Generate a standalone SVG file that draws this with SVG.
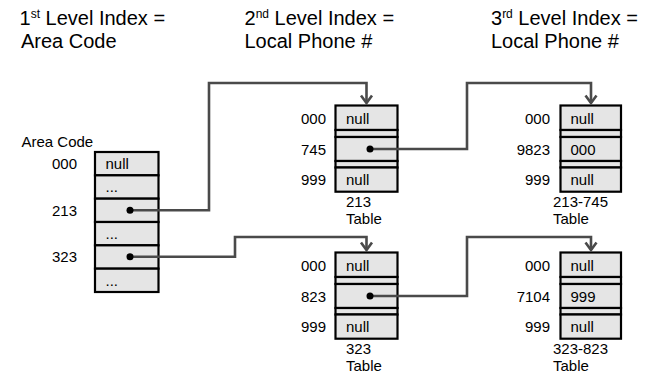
<svg xmlns="http://www.w3.org/2000/svg" width="654" height="377" viewBox="0 0 654 377">
<style>
text{font-family:"Liberation Sans",Arial,Helvetica,sans-serif;fill:#000}
.h{font-size:20px}
.sup{font-size:12px}
.t{font-size:15px}
.r{text-anchor:end}
.cell{fill:#e5e5e5;stroke:#000;stroke-width:2.2}
.ptr{fill:#000}
.conn{fill:none;stroke:#4a4a4a;stroke-width:2.6;stroke-linejoin:miter}
</style>
<defs>
<marker id="arr" markerUnits="userSpaceOnUse" markerWidth="16" markerHeight="16" viewBox="-10 -8 12 16" refX="0" refY="0" orient="auto">
<path d="M-7.5,-5.5 L0,0 L-7.5,5.5" fill="none" stroke="#4a4a4a" stroke-width="2.6"/>
</marker>
</defs>
<g id="headers">
<text class="h" x="19.5" y="25">1<tspan class="sup" dy="-7">st</tspan><tspan dy="7"> Level Index =</tspan></text>
<text class="h" x="21" y="48">Area Code</text>
<text class="h" x="244.5" y="25">2<tspan class="sup" dy="-7">nd</tspan><tspan dy="7"> Level Index =</tspan></text>
<text class="h" x="244.5" y="48">Local Phone #</text>
<text class="h" x="491" y="25">3<tspan class="sup" dy="-7">rd</tspan><tspan dy="7"> Level Index =</tspan></text>
<text class="h" x="491" y="48">Local Phone #</text>
</g>
<g id="area-code-table">
<text class="t" x="21.5" y="147">Area Code</text>
<rect class="cell" x="95" y="152" width="63.5" height="23.33"/>
<rect class="cell" x="95" y="175.33" width="63.5" height="23.33"/>
<rect class="cell" x="95" y="198.67" width="63.5" height="23.33"/>
<rect class="cell" x="95" y="222" width="63.5" height="23.33"/>
<rect class="cell" x="95" y="245.33" width="63.5" height="23.33"/>
<rect class="cell" x="95" y="268.67" width="63.5" height="23.33"/>
<text class="t r" x="77" y="169">000</text>
<text class="t r" x="77" y="215.5">213</text>
<text class="t r" x="77" y="262">323</text>
<text class="t" x="105.5" y="169">null</text>
<text class="t" x="105.5" y="192">...</text>
<text class="t" x="105.5" y="239">...</text>
<text class="t" x="105.5" y="285.5">...</text>
</g>
<g id="table-213">
<rect class="cell" x="335.5" y="105.5" width="62" height="24.5"/>
<rect class="cell" x="335.5" y="130" width="62" height="7"/>
<rect class="cell" x="335.5" y="137" width="62" height="24"/>
<rect class="cell" x="335.5" y="161" width="62" height="6.5"/>
<rect class="cell" x="335.5" y="167.5" width="62" height="24.2"/>
<text class="t r" x="326" y="124">000</text>
<text class="t r" x="326" y="154.5">745</text>
<text class="t r" x="326" y="185">999</text>
<text class="t" x="346" y="124">null</text>
<text class="t" x="346" y="185">null</text>
<text class="t" x="346" y="207">213</text>
<text class="t" x="346" y="224">Table</text>
</g>
<g id="table-213-745">
<rect class="cell" x="560.5" y="105.5" width="60.5" height="24.5"/>
<rect class="cell" x="560.5" y="130" width="60.5" height="7"/>
<rect class="cell" x="560.5" y="137" width="60.5" height="24"/>
<rect class="cell" x="560.5" y="161" width="60.5" height="6.5"/>
<rect class="cell" x="560.5" y="167.5" width="60.5" height="24.2"/>
<text class="t r" x="550" y="124">000</text>
<text class="t r" x="550" y="154.5">9823</text>
<text class="t r" x="550" y="185">999</text>
<text class="t" x="570.5" y="124">null</text>
<text class="t" x="570.5" y="154.5">000</text>
<text class="t" x="570.5" y="185">null</text>
<text class="t" x="553" y="207">213-745</text>
<text class="t" x="553" y="224">Table</text>
</g>
<g id="table-323">
<rect class="cell" x="335.5" y="252.5" width="62" height="24.5"/>
<rect class="cell" x="335.5" y="277" width="62" height="7"/>
<rect class="cell" x="335.5" y="284" width="62" height="24"/>
<rect class="cell" x="335.5" y="308" width="62" height="6.5"/>
<rect class="cell" x="335.5" y="314.5" width="62" height="24.2"/>
<text class="t r" x="326" y="271">000</text>
<text class="t r" x="326" y="301.5">823</text>
<text class="t r" x="326" y="332">999</text>
<text class="t" x="346" y="271">null</text>
<text class="t" x="346" y="332">null</text>
<text class="t" x="346" y="354">323</text>
<text class="t" x="346" y="371">Table</text>
</g>
<g id="table-323-823">
<rect class="cell" x="560.5" y="252.5" width="60.5" height="24.5"/>
<rect class="cell" x="560.5" y="277" width="60.5" height="7"/>
<rect class="cell" x="560.5" y="284" width="60.5" height="24"/>
<rect class="cell" x="560.5" y="308" width="60.5" height="6.5"/>
<rect class="cell" x="560.5" y="314.5" width="60.5" height="24.2"/>
<text class="t r" x="550" y="271">000</text>
<text class="t r" x="550" y="301.5">7104</text>
<text class="t r" x="550" y="332">999</text>
<text class="t" x="570.5" y="271">null</text>
<text class="t" x="570.5" y="301.5">999</text>
<text class="t" x="570.5" y="332">null</text>
<text class="t" x="553" y="354">323-823</text>
<text class="t" x="553" y="371">Table</text>
</g>
<g id="connectors">
<path class="conn" d="M130,210.3 H209 V83 H366.5 V103" marker-end="url(#arr)"/>
<path class="conn" d="M130,256.7 H235 V237 H366.5 V250" marker-end="url(#arr)"/>
<path class="conn" d="M370,149 H467 V83 H591 V103" marker-end="url(#arr)"/>
<path class="conn" d="M370,296 H467 V237 H591 V250" marker-end="url(#arr)"/>
<circle class="ptr" cx="130" cy="210.3" r="3.5"/>
<circle class="ptr" cx="130" cy="256.7" r="3.5"/>
<circle class="ptr" cx="370" cy="149" r="3.5"/>
<circle class="ptr" cx="370" cy="296" r="3.5"/>
</g>
</svg>
